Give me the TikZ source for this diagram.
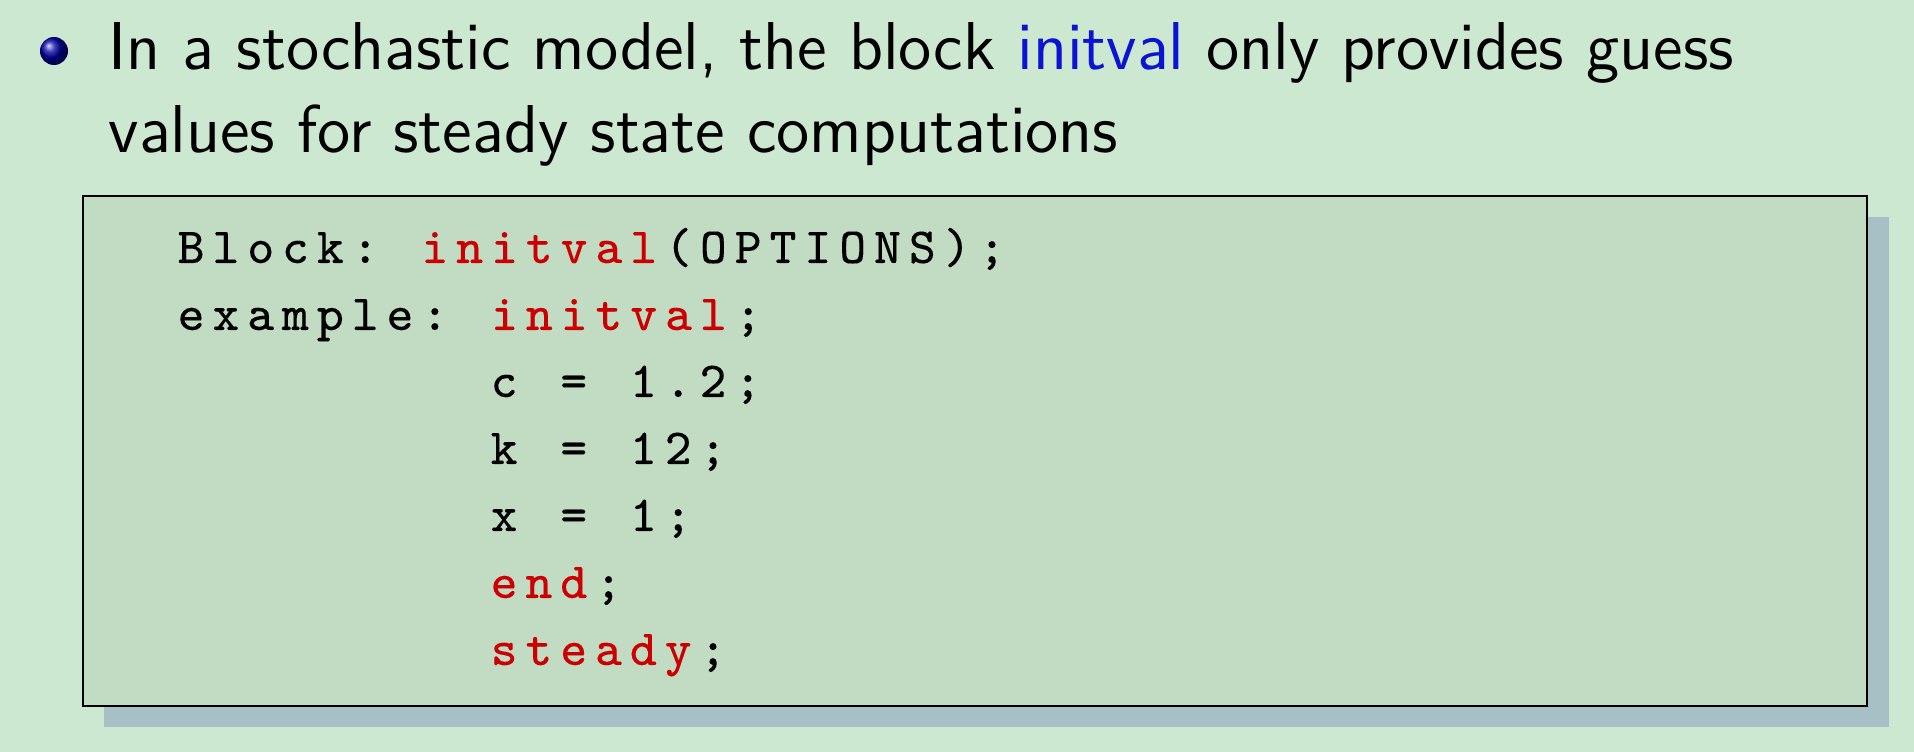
\documentclass[tikz,border=0pt]{standalone}
\usepackage{fontspec}
\setsansfont{lmsans12-regular}[Extension=.otf]
\newfontfamily\codefont{lmmono8-regular}[Extension=.otf,FakeBold=0.1]
\definecolor{slidebg}{HTML}{CDE8D0}
\definecolor{boxfill}{HTML}{C2DCC3}
\definecolor{boxshadow}{HTML}{A7C0C6}
\definecolor{keyred}{HTML}{CC0000}
\definecolor{structblue}{HTML}{0A14D2}
% fixed columns: every character in a box of the same width
\ExplSyntaxOn
\NewDocumentCommand\cols{m}{\str_map_inline:nn {#1}{\hbox_to_wd:nn {0.348cm}{\hss ##1\hss}}}
\ExplSyntaxOff
\newcommand{\kw}[1]{\textcolor{keyred}{\cols{#1}}}
\begin{document}
\begin{tikzpicture}
    [x=0.01cm,y=-0.01cm,
     txt/.style={anchor=base west,inner sep=0pt,font=\sffamily\fontsize{19.26}{23}\selectfont},
     code/.style={anchor=base west,inner sep=0pt,font=\codefont\fontsize{14.4}{16}\selectfont}]
    \fill[slidebg] (0,0) rectangle (1914,752);
    \useasboundingbox (0,0) rectangle (1914,752);

    % bullet and item text
    \node[circle,inner sep=0pt,minimum size=0.28cm,ball color=blue!65!black] (bullet) at (54,51) {};
    \node[txt] (line1) at (108,70) {In a stochastic model, the block \textcolor{structblue}{initval} only provides guess};
    \node[txt] (line2) at (108,153) {values for steady state computations};

    % listing box with shadow
    \fill[boxshadow] (104,217) rectangle (1889,727);
    \draw[line width=0.5pt,fill=boxfill] (83,196) rectangle (1867,706);

    \node[code] (block) at (173,263) {\cols{Block: }\kw{initval}\cols{(OPTIONS);}};
    \node[code] (example) at (173,330) {\cols{example: }\kw{initval}\cols{;}};
    \node[code] (cval) at (486,397) {\cols{c = 1.2;}};
    \node[code] (kval) at (486,464) {\cols{k = 12;}};
    \node[code] (xval) at (486,531) {\cols{x = 1;}};
    \node[code] (endkw) at (486,598) {\kw{end}\cols{;}};
    \node[code] (steadykw) at (486,665) {\kw{steady}\cols{;}};
\end{tikzpicture}
\end{document}
